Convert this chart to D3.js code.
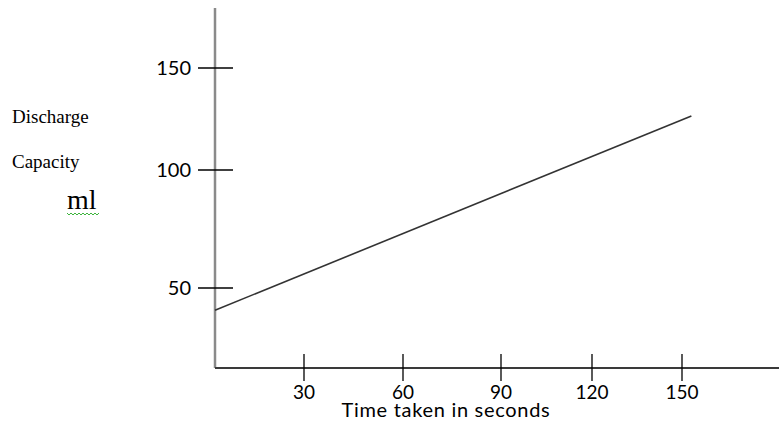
<!DOCTYPE html>
<html>
<head>
<meta charset="utf-8">
<script src="https://cdn.jsdelivr.net/npm/d3@7"></script>
<style>
  body { margin: 0; background: #fff; }
  svg { display: block; }
</style>
</head>
<body>
<div id="chart"></div>
<script>
// Data
const xTicks = [30, 60, 90, 120, 150];
const yTicks = [50, 100, 150];
const lineTime = [0, 153];        // seconds
const lineVolume = [40, 126.5];   // ml
const yLabelLines = ["Discharge", "Capacity"];
const yUnit = "ml";
const xTitle = "Time taken in seconds";

const width = 779, height = 421;

const svg = d3.select("#chart")
    .append("svg")
    .attr("width", width)
    .attr("height", height);

// Scales: the drawn axes are hand spaced, so map each tick to where it sits
const x = d3.scaleLinear()
    .domain([0, 30, 60, 90, 120, 150, 181])
    .range([215, 304, 403, 501, 592, 682, 779]);
const y = d3.scaleLinear()
    .domain([14, 50, 100, 150, 177])
    .range([368, 288, 170, 68, 8]);

const sans = "Lato, 'Open Sans', sans-serif";
const serif = "'Liberation Serif', 'DejaVu Serif', serif";

// Y axis line (grey)
svg.append("line")
    .attr("x1", x(0)).attr("x2", x(0))
    .attr("y1", y(177)).attr("y2", y(14))
    .style("stroke", "#8a8a8a")
    .style("stroke-width", 2.5);

// X axis line
svg.append("line")
    .attr("x1", x(0)).attr("x2", x(181))
    .attr("y1", y(14)).attr("y2", y(14))
    .style("stroke", "#3a3a3a")
    .style("stroke-width", 2);

// Y ticks (crossing the axis)
svg.selectAll(".ytick")
    .data(yTicks)
    .enter()
    .append("line")
    .attr("x1", x(0) - 17).attr("x2", x(0) + 18)
    .attr("y1", d => y(d)).attr("y2", d => y(d))
    .style("stroke", "#000")
    .style("stroke-width", 1.3);

svg.selectAll(".ylab")
    .data(yTicks)
    .enter()
    .append("text")
    .attr("x", x(0) - 24)
    .attr("y", d => y(d))
    .attr("dy", "0.35em")
    .style("text-anchor", "end")
    .style("font-family", sans)
    .style("font-size", "20px")
    .style("fill", "#000")
    .text(d => d);

// X ticks (crossing the axis)
svg.selectAll(".xtick")
    .data(xTicks)
    .enter()
    .append("line")
    .attr("x1", d => x(d)).attr("x2", d => x(d))
    .attr("y1", y(14) - 14).attr("y2", y(14) + 13)
    .style("stroke", "#000")
    .style("stroke-width", 1.3);

svg.selectAll(".xlab")
    .data(xTicks)
    .enter()
    .append("text")
    .attr("x", d => x(d))
    .attr("y", y(14) + 31)
    .style("text-anchor", "middle")
    .style("font-family", sans)
    .style("font-size", "19px")
    .style("fill", "#000")
    .text(d => d);

// The line
const pts = lineTime.map((t, i) => [t, lineVolume[i]]);
svg.append("path")
    .datum(pts)
    .attr("d", d3.line().x(d => x(d[0])).y(d => y(d[1])))
    .style("fill", "none")
    .style("stroke", "#333")
    .style("stroke-width", 1.6);

// Axis title
svg.append("text")
    .attr("x", 446)
    .attr("y", 417)
    .style("text-anchor", "middle")
    .style("font-family", sans)
    .style("font-size", "20px")
    .style("letter-spacing", "0.7px")
    .style("fill", "#000")
    .text(xTitle);

// Y label (serif, left side)
svg.selectAll(".ylabel")
    .data(yLabelLines)
    .enter()
    .append("text")
    .attr("x", 12)
    .attr("y", (d, i) => 123 + i * 45)
    .style("font-family", serif)
    .style("font-size", "19px")
    .style("fill", "#000")
    .text(d => d);

svg.append("text")
    .attr("x", 67)
    .attr("y", 209)
    .style("font-family", serif)
    .style("font-size", "28px")
    .style("fill", "#000")
    .text(yUnit);

// green wavy underline under "ml"
const wave = d3.range(0, 33, 2).map((v, i) => [67 + v, i % 2 === 0 ? 213 : 215]);
svg.append("path")
    .datum(wave)
    .attr("d", d3.line())
    .style("fill", "none")
    .style("stroke", "#3cb43c")
    .style("stroke-width", 1);
</script>
</body>
</html>
